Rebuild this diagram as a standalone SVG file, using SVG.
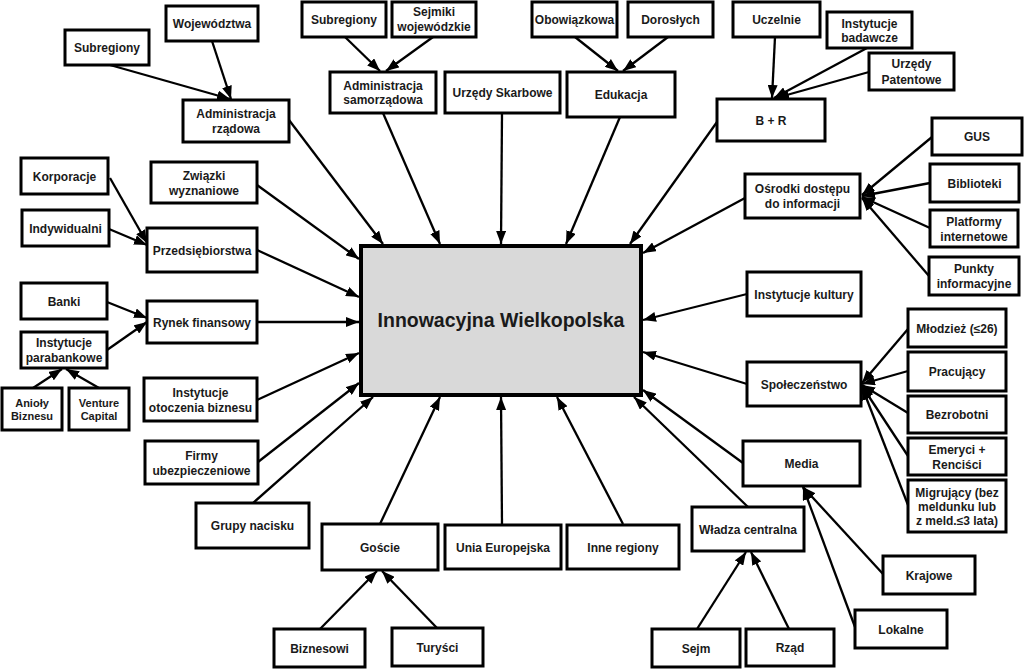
<svg xmlns="http://www.w3.org/2000/svg" width="1024" height="669" viewBox="0 0 1024 669">
<defs>
<style>
.n rect{fill:#fff;stroke:#000;stroke-width:3}
.n text{font-family:"Liberation Sans",Arial,sans-serif;font-weight:bold;font-size:12px;fill:#1a1a1a;text-anchor:middle}
.n text.s{font-size:11px}
#center rect{fill:#d9d9d9;stroke:#000;stroke-width:4}
#center text{font-size:19.5px}
.c line{stroke:#000;stroke-width:2.3;marker-end:url(#ah)}
</style>
<marker id="ah" markerUnits="userSpaceOnUse" markerWidth="13" markerHeight="10" refX="13" refY="5" orient="auto">
<path d="M0,0 L13,5 L0,10 z" fill="#000"/>
</marker>
</defs>
<rect width="1024" height="669" fill="#fff"/>
<g class="c" id="connectors">
<line x1="110" y1="65" x2="230" y2="99"/>
<line x1="212" y1="41" x2="231" y2="99"/>
<line x1="289" y1="120" x2="383" y2="244"/>
<line x1="345" y1="37" x2="380" y2="71"/>
<line x1="433" y1="37" x2="386" y2="71"/>
<line x1="383" y1="113" x2="440" y2="244"/>
<line x1="502" y1="113" x2="501" y2="244"/>
<line x1="575" y1="37" x2="618" y2="71"/>
<line x1="668" y1="37" x2="623" y2="71"/>
<line x1="620" y1="117" x2="566" y2="244"/>
<line x1="775" y1="37" x2="772" y2="98"/>
<line x1="867" y1="48" x2="774" y2="98"/>
<line x1="869" y1="72" x2="776" y2="98"/>
<line x1="717" y1="122" x2="630" y2="244"/>
<line x1="745" y1="198" x2="643" y2="253"/>
<line x1="932" y1="137" x2="862" y2="195"/>
<line x1="930" y1="183" x2="862" y2="196"/>
<line x1="930" y1="228" x2="862" y2="197"/>
<line x1="929" y1="276" x2="862" y2="198"/>
<line x1="747" y1="294" x2="643" y2="320"/>
<line x1="747" y1="384" x2="643" y2="352"/>
<line x1="908" y1="329" x2="862" y2="383"/>
<line x1="908" y1="371" x2="862" y2="384"/>
<line x1="908" y1="413" x2="862" y2="385"/>
<line x1="908" y1="456" x2="862" y2="386"/>
<line x1="908" y1="505" x2="862" y2="387"/>
<line x1="743" y1="463" x2="643" y2="390"/>
<line x1="748" y1="507" x2="634" y2="397"/>
<line x1="883" y1="574" x2="803" y2="487"/>
<line x1="855" y1="627" x2="803" y2="487"/>
<line x1="697" y1="629" x2="746" y2="552"/>
<line x1="789" y1="629" x2="751" y2="552"/>
<line x1="623" y1="524" x2="557" y2="397"/>
<line x1="502" y1="525" x2="501" y2="397"/>
<line x1="380" y1="524" x2="440" y2="397"/>
<line x1="320" y1="629" x2="377" y2="571"/>
<line x1="437" y1="628" x2="382" y2="571"/>
<line x1="253" y1="503" x2="373" y2="397"/>
<line x1="258" y1="462" x2="359" y2="383"/>
<line x1="257" y1="400" x2="359" y2="353"/>
<line x1="257" y1="322" x2="359" y2="322"/>
<line x1="257" y1="250" x2="359" y2="297"/>
<line x1="257" y1="185" x2="359" y2="259"/>
<line x1="110" y1="178" x2="147" y2="243"/>
<line x1="109" y1="229" x2="147" y2="245"/>
<line x1="107" y1="302" x2="147" y2="318"/>
<line x1="107" y1="350" x2="147" y2="322"/>
<line x1="33" y1="388" x2="62" y2="369"/>
<line x1="99" y1="388" x2="66" y2="369"/>
</g>
<g class="n" id="center"><rect x="361" y="246" width="280" height="149"/><text x="501" y="327">Innowacyjna Wielkopolska</text></g>
<g class="n" id="wojewodztwa"><rect x="166" y="6" width="92" height="35"/><text x="212" y="28">Województwa</text></g>
<g class="n" id="subregiony1"><rect x="65" y="30" width="84" height="35"/><text x="107" y="52">Subregiony</text></g>
<g class="n" id="admin-rzadowa"><rect x="183" y="100" width="106" height="42"/><text x="236" y="118">Administracja</text><text x="236" y="133">rządowa</text></g>
<g class="n" id="subregiony2"><rect x="302" y="2" width="84" height="35"/><text x="344" y="24">Subregiony</text></g>
<g class="n" id="sejmiki"><rect x="392" y="2" width="84" height="35"/><text x="434" y="16">Sejmiki</text><text x="434" y="31">wojewódzkie</text></g>
<g class="n" id="admin-samorzadowa"><rect x="330" y="72" width="106" height="41"/><text x="383" y="89.5">Administracja</text><text x="383" y="104">samorządowa</text></g>
<g class="n" id="urzedy-skarbowe"><rect x="445" y="72" width="115" height="41"/><text x="502.5" y="97">Urzędy Skarbowe</text></g>
<g class="n" id="obowiazkowa"><rect x="532" y="2" width="85" height="35"/><text x="574.5" y="24">Obowiązkowa</text></g>
<g class="n" id="doroslych"><rect x="628" y="2" width="85" height="35"/><text x="670.5" y="24">Dorosłych</text></g>
<g class="n" id="edukacja"><rect x="567" y="72" width="108" height="45"/><text x="621" y="99">Edukacja</text></g>
<g class="n" id="uczelnie"><rect x="733" y="2" width="87" height="35"/><text x="776.5" y="24">Uczelnie</text></g>
<g class="n" id="instytucje-badawcze"><rect x="827" y="12" width="85" height="36"/><text x="869.5" y="27.5">Instytucje</text><text x="869.5" y="42">badawcze</text></g>
<g class="n" id="urzedy-patentowe"><rect x="869" y="53" width="85" height="37"/><text x="911.5" y="68">Urzędy</text><text x="911.5" y="83.5">Patentowe</text></g>
<g class="n" id="br"><rect x="717" y="99" width="108" height="42"/><text x="771" y="124.5">B + R</text></g>
<g class="n" id="osrodki"><rect x="745" y="174" width="115" height="44"/><text x="802.5" y="192.5">Ośrodki dostępu</text><text x="802.5" y="207.5">do informacji</text></g>
<g class="n" id="gus"><rect x="932" y="118" width="90" height="37"/><text x="977" y="141">GUS</text></g>
<g class="n" id="biblioteki"><rect x="930" y="164" width="89" height="38"/><text x="974.5" y="187.5">Biblioteki</text></g>
<g class="n" id="platformy"><rect x="930" y="210" width="88" height="37"/><text x="974" y="225.5">Platformy</text><text x="974" y="240.5">internetowe</text></g>
<g class="n" id="punkty"><rect x="929" y="257" width="90" height="38"/><text x="974" y="273">Punkty</text><text x="974" y="288">informacyjne</text></g>
<g class="n" id="instytucje-kultury"><rect x="747" y="272" width="114" height="44"/><text x="804" y="298.5">Instytucje kultury</text></g>
<g class="n" id="spoleczenstwo"><rect x="747" y="362" width="114" height="44"/><text x="804" y="388.5">Społeczeństwo</text></g>
<g class="n" id="mlodziez"><rect x="908" y="309" width="98" height="38"/><text x="957" y="332.5">Młodzież (≤26)</text></g>
<g class="n" id="pracujacy"><rect x="908" y="352" width="98" height="39"/><text x="957" y="376">Pracujący</text></g>
<g class="n" id="bezrobotni"><rect x="908" y="396" width="98" height="37"/><text x="957" y="419">Bezrobotni</text></g>
<g class="n" id="emeryci"><rect x="908" y="438" width="98" height="37"/><text x="957" y="453.5">Emeryci +</text><text x="957" y="468.5">Renciści</text></g>
<g class="n" id="migrujacy"><rect x="908" y="480" width="98" height="52"/><text x="957" y="497">Migrujący (bez</text><text x="957" y="511">meldunku lub</text><text x="957" y="525">z meld.≤3 lata)</text></g>
<g class="n" id="media"><rect x="743" y="441" width="117" height="45"/><text x="801.5" y="468">Media</text></g>
<g class="n" id="wladza"><rect x="692" y="507" width="112" height="44"/><text x="748" y="533.5">Władza centralna</text></g>
<g class="n" id="krajowe"><rect x="883" y="556" width="92" height="38"/><text x="929" y="579.5">Krajowe</text></g>
<g class="n" id="lokalne"><rect x="855" y="610" width="92" height="38"/><text x="901" y="633.5">Lokalne</text></g>
<g class="n" id="sejm"><rect x="652" y="629" width="88" height="38"/><text x="696" y="652.5">Sejm</text></g>
<g class="n" id="rzad"><rect x="746" y="629" width="88" height="37"/><text x="790" y="652">Rząd</text></g>
<g class="n" id="inne-regiony"><rect x="567" y="525" width="112" height="44"/><text x="623" y="551.5">Inne regiony</text></g>
<g class="n" id="unia"><rect x="445" y="525" width="116" height="44"/><text x="503" y="551.5">Unia Europejska</text></g>
<g class="n" id="goscie"><rect x="322" y="524" width="116" height="46"/><text x="380" y="551.5">Goście</text></g>
<g class="n" id="biznesowi"><rect x="274" y="629" width="91" height="38"/><text x="319.5" y="652.5">Biznesowi</text></g>
<g class="n" id="turysci"><rect x="392" y="628" width="91" height="38"/><text x="437.5" y="651.5">Turyści</text></g>
<g class="n" id="grupy"><rect x="196" y="503" width="113" height="45"/><text x="252.5" y="530">Grupy nacisku</text></g>
<g class="n" id="firmy"><rect x="145" y="441" width="113" height="43"/><text x="201.5" y="459.5">Firmy</text><text x="201.5" y="474.5">ubezpieczeniowe</text></g>
<g class="n" id="otoczenie"><rect x="144" y="378" width="113" height="43"/><text x="200.5" y="396.5">Instytucje</text><text x="200.5" y="411.5">otoczenia biznesu</text></g>
<g class="n" id="rynek"><rect x="147" y="301" width="110" height="42"/><text x="202" y="326.5">Rynek finansowy</text></g>
<g class="n" id="przedsiebiorstwa"><rect x="147" y="228" width="110" height="44"/><text x="202" y="254.5">Przedsiębiorstwa</text></g>
<g class="n" id="zwiazki"><rect x="151" y="162" width="106" height="41"/><text x="204" y="179.5">Związki</text><text x="204" y="194.5">wyznaniowe</text></g>
<g class="n" id="korporacje"><rect x="21" y="158" width="87" height="36"/><text x="64.5" y="180.5">Korporacje</text></g>
<g class="n" id="indywidualni"><rect x="22" y="210" width="87" height="36"/><text x="65.5" y="232.5">Indywidualni</text></g>
<g class="n" id="banki"><rect x="21" y="283" width="86" height="36"/><text x="64" y="305.5">Banki</text></g>
<g class="n" id="parabankowe"><rect x="21" y="332" width="86" height="36"/><text x="64" y="346.5">Instytucje</text><text x="64" y="361.5">parabankowe</text></g>
<g class="n" id="anioly"><rect x="2" y="388" width="60" height="42"/><text class="s" x="32" y="407">Anioły</text><text class="s" x="32" y="420">Biznesu</text></g>
<g class="n" id="venture"><rect x="69" y="388" width="60" height="42"/><text class="s" x="99" y="407">Venture</text><text class="s" x="99" y="420">Capital</text></g>
</svg>
